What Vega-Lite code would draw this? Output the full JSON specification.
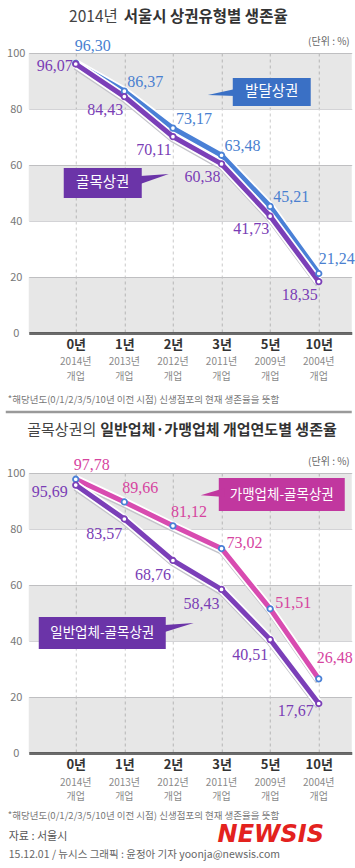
{
  "$schema": "https://vega.github.io/schema/vega-lite/v6.json",
  "padding": {"left": 3.75, "top": 9, "right": 0, "bottom": 0},
  "bounds": "flush",
  "spacing": 140,
  "config": {
    "view": {"stroke": null},
    "font": "Noto Sans CJK KR",
    "locale": {"number": {"decimal": ",", "thousands": ".", "grouping": [3], "currency": ["", ""]}}
  },
  "datasets": {
    "area": [
      {"period": "0년", "open": "2014년", "i": 0, "area": "발달상권", "rate": 96.30},
      {"period": "1년", "open": "2013년", "i": 1, "area": "발달상권", "rate": 86.37},
      {"period": "2년", "open": "2012년", "i": 2, "area": "발달상권", "rate": 73.17},
      {"period": "3년", "open": "2011년", "i": 3, "area": "발달상권", "rate": 63.48},
      {"period": "5년", "open": "2009년", "i": 4, "area": "발달상권", "rate": 45.21},
      {"period": "10년", "open": "2004년", "i": 5, "area": "발달상권", "rate": 21.24},
      {"period": "0년", "open": "2014년", "i": 0, "area": "골목상권", "rate": 96.07},
      {"period": "1년", "open": "2013년", "i": 1, "area": "골목상권", "rate": 84.43},
      {"period": "2년", "open": "2012년", "i": 2, "area": "골목상권", "rate": 70.11},
      {"period": "3년", "open": "2011년", "i": 3, "area": "골목상권", "rate": 60.38},
      {"period": "5년", "open": "2009년", "i": 4, "area": "골목상권", "rate": 41.73},
      {"period": "10년", "open": "2004년", "i": 5, "area": "골목상권", "rate": 18.35}
    ],
    "type": [
      {"period": "0년", "open": "2014년", "i": 0, "kind": "가맹업체-골목상권", "rate": 97.78},
      {"period": "1년", "open": "2013년", "i": 1, "kind": "가맹업체-골목상권", "rate": 89.66},
      {"period": "2년", "open": "2012년", "i": 2, "kind": "가맹업체-골목상권", "rate": 81.12},
      {"period": "3년", "open": "2011년", "i": 3, "kind": "가맹업체-골목상권", "rate": 73.02},
      {"period": "5년", "open": "2009년", "i": 4, "kind": "가맹업체-골목상권", "rate": 51.51},
      {"period": "10년", "open": "2004년", "i": 5, "kind": "가맹업체-골목상권", "rate": 26.48},
      {"period": "0년", "open": "2014년", "i": 0, "kind": "일반업체-골목상권", "rate": 95.69},
      {"period": "1년", "open": "2013년", "i": 1, "kind": "일반업체-골목상권", "rate": 83.57},
      {"period": "2년", "open": "2012년", "i": 2, "kind": "일반업체-골목상권", "rate": 68.76},
      {"period": "3년", "open": "2011년", "i": 3, "kind": "일반업체-골목상권", "rate": 58.43},
      {"period": "5년", "open": "2009년", "i": 4, "kind": "일반업체-골목상권", "rate": 40.51},
      {"period": "10년", "open": "2004년", "i": 5, "kind": "일반업체-골목상권", "rate": 17.67}
    ]
  },
  "vconcat": [
    {
      "width": 323,
      "height": 280,
      "data": {"name": "area"},
      "resolve": {"axis": {"x": "independent", "y": "independent"}},
      "layer": [
        {"data": {"values": [{}]}, "mark": {"type": "rect", "fill": "#000", "opacity": 0.095},
         "encoding": {"x": {"datum": -0.967, "type": "quantitative", "axis": null}, "x2": {"datum": 5.679}, "y": {"datum": 0, "type": "quantitative", "axis": null}, "y2": {"datum": 20}}},
        {"data": {"values": [{}]}, "mark": {"type": "rect", "fill": "#000", "opacity": 0.095},
         "encoding": {"x": {"datum": -0.967, "type": "quantitative", "axis": null}, "x2": {"datum": 5.679}, "y": {"datum": 40, "type": "quantitative", "axis": null}, "y2": {"datum": 60}}},
        {"data": {"values": [{}]}, "mark": {"type": "rect", "fill": "#000", "opacity": 0.095},
         "encoding": {"x": {"datum": -0.967, "type": "quantitative", "axis": null}, "x2": {"datum": 5.679}, "y": {"datum": 80, "type": "quantitative", "axis": null}, "y2": {"datum": 100}}},
        {"transform": [{"filter": {"field": "area", "equal": "발달상권"}}],
         "mark": {"type": "line", "color": "#c4c4ca", "strokeWidth": 7, "yOffset": 2.5},
         "encoding": {
           "x": {"field": "i", "type": "quantitative", "scale": {"domain": [-0.967, 5.679], "nice": false, "zero": false},
                 "axis": {"orient": "bottom", "values": [0, 1, 2, 3, 4, 5], "labelExpr": "['0년','1년','2년','3년','5년','10년'][datum.value]", "title": null, "ticks": false, "tickSize": 0, "labelPadding": 5, "labelFontSize": 13, "labelFontWeight": "bold", "labelColor": "#333", "labelFlush": false, "labelOverlap": false, "labelFont": "Noto Sans CJK KR", "domain": true, "domainColor": "#6b6b6b", "domainWidth": 3, "grid": true, "gridDash": [3, 3], "gridColor": "#c9c9c9", "gridWidth": 1}},
           "y": {"field": "rate", "type": "quantitative", "scale": {"domain": [0, 100]},
                 "axis": {"orient": "left", "values": [0, 20, 40, 60, 80, 100], "title": null, "ticks": false, "tickSize": 0, "domain": false, "labelAlign": "center", "labelPadding": 13, "labelColor": "#777", "labelFontSize": 11, "labelFont": "Noto Sans CJK KR", "labelOverlap": false, "labelFlush": false, "grid": true, "gridColor": "#d3d3d6", "gridWidth": 1}}}},
        {"transform": [{"filter": {"field": "area", "equal": "발달상권"}}],
         "mark": {"type": "line", "color": "white", "strokeWidth": 8.5},
         "encoding": {"x": {"field": "i", "type": "quantitative", "axis": null}, "y": {"field": "rate", "type": "quantitative", "axis": null}}},
        {"transform": [{"filter": {"field": "area", "equal": "발달상권"}}],
         "mark": {"type": "line", "color": "#4a80d6", "strokeWidth": 5},
         "encoding": {"x": {"field": "i", "type": "quantitative", "axis": null}, "y": {"field": "rate", "type": "quantitative", "axis": null}}},
        {"transform": [{"filter": {"field": "area", "equal": "골목상권"}}],
         "mark": {"type": "line", "color": "#c4c4ca", "strokeWidth": 7, "yOffset": 2.5},
         "encoding": {"x": {"field": "i", "type": "quantitative", "axis": null}, "y": {"field": "rate", "type": "quantitative", "axis": null}}},
        {"transform": [{"filter": {"field": "area", "equal": "골목상권"}}],
         "mark": {"type": "line", "color": "white", "strokeWidth": 8.5},
         "encoding": {"x": {"field": "i", "type": "quantitative", "axis": null}, "y": {"field": "rate", "type": "quantitative", "axis": null}}},
        {"transform": [{"filter": {"field": "area", "equal": "골목상권"}}],
         "mark": {"type": "line", "color": "#7b3fb8", "strokeWidth": 5},
         "encoding": {"x": {"field": "i", "type": "quantitative", "axis": null}, "y": {"field": "rate", "type": "quantitative", "axis": null}}},
        {"mark": {"type": "point", "filled": true, "fill": "white", "size": 30, "strokeWidth": 1.8, "opacity": 1},
         "encoding": {"x": {"field": "i", "type": "quantitative", "axis": null}, "y": {"field": "rate", "type": "quantitative", "axis": null},
                      "stroke": {"field": "area", "type": "nominal", "scale": {"domain": ["발달상권", "골목상권"], "range": ["#4a80d6", "#7b3fb8"]}, "legend": null}}},
        {"transform": [{"filter": {"field": "area", "equal": "발달상권"}}],
         "mark": {"type": "text", "fontSize": 10, "color": "#8a8a8a", "font": "Noto Sans CJK KR", "align": "center", "baseline": "middle"},
         "encoding": {"x": {"field": "i", "type": "quantitative", "axis": null}, "y": {"datum": -10.4, "type": "quantitative", "axis": null}, "text": {"field": "open"}}},
        {"transform": [{"filter": {"field": "area", "equal": "발달상권"}}],
         "mark": {"type": "text", "fontSize": 10, "color": "#8a8a8a", "font": "Noto Sans CJK KR", "align": "center", "baseline": "middle"},
         "encoding": {"x": {"field": "i", "type": "quantitative", "axis": null}, "y": {"datum": -15.7, "type": "quantitative", "axis": null}, "text": {"value": "개업"}}},
        {"transform": [{"filter": "datum.area === '발달상권' && datum.i >= 1 && datum.i <= 4"}],
         "mark": {"type": "text", "font": "Liberation Sans Narrow", "fontSize": 16, "color": "#4a7fd0", "dx": 21, "dy": -9, "align": "center", "baseline": "middle"},
         "encoding": {"x": {"field": "i", "type": "quantitative", "axis": null}, "y": {"field": "rate", "type": "quantitative", "axis": null}, "text": {"field": "rate", "type": "quantitative", "format": ".2f"}}},
        {"transform": [{"filter": "datum.area === '발달상권' && datum.i == 0"}],
         "mark": {"type": "text", "font": "Liberation Sans Narrow", "fontSize": 16, "color": "#4a7fd0", "dx": 17, "dy": -17, "align": "center", "baseline": "middle"},
         "encoding": {"x": {"field": "i", "type": "quantitative", "axis": null}, "y": {"field": "rate", "type": "quantitative", "axis": null}, "text": {"field": "rate", "type": "quantitative", "format": ".2f"}}},
        {"transform": [{"filter": "datum.area === '발달상권' && datum.i == 5"}],
         "mark": {"type": "text", "font": "Liberation Sans Narrow", "fontSize": 16, "color": "#4a7fd0", "dx": 18, "dy": -15, "align": "center", "baseline": "middle"},
         "encoding": {"x": {"field": "i", "type": "quantitative", "axis": null}, "y": {"field": "rate", "type": "quantitative", "axis": null}, "text": {"field": "rate", "type": "quantitative", "format": ".2f"}}},
        {"transform": [{"filter": "datum.area === '골목상권' && datum.i >= 1"}],
         "mark": {"type": "text", "font": "Liberation Sans Narrow", "fontSize": 16, "color": "#7a3db5", "dx": -19, "dy": 13, "align": "center", "baseline": "middle"},
         "encoding": {"x": {"field": "i", "type": "quantitative", "axis": null}, "y": {"field": "rate", "type": "quantitative", "axis": null}, "text": {"field": "rate", "type": "quantitative", "format": ".2f"}}},
        {"transform": [{"filter": "datum.area === '골목상권' && datum.i == 0"}],
         "mark": {"type": "text", "font": "Liberation Sans Narrow", "fontSize": 16, "color": "#7a3db5", "dx": -21, "dy": 2, "align": "center", "baseline": "middle"},
         "encoding": {"x": {"field": "i", "type": "quantitative", "axis": null}, "y": {"field": "rate", "type": "quantitative", "axis": null}, "text": {"field": "rate", "type": "quantitative", "format": ".2f"}}},
        {"data": {"values": [{}]}, "mark": {"type": "rect", "color": "#3a70c5"},
         "encoding": {"x": {"datum": 3.231, "type": "quantitative", "axis": null}, "x2": {"datum": 4.835}, "y": {"datum": 91.1, "type": "quantitative", "axis": null}, "y2": {"datum": 81.1}}},
        {"data": {"values": [{}]}, "mark": {"type": "point", "shape": "M1,-0.27L-0.83,0.13L1,0.2Z", "size": 900, "filled": true, "color": "#3a70c5", "opacity": 1, "strokeWidth": 0},
         "encoding": {"x": {"datum": 2.973, "type": "quantitative", "axis": null}, "y": {"datum": 85.7, "type": "quantitative", "axis": null}}},
        {"data": {"values": [{"label": "발달상권"}]}, "mark": {"type": "text", "color": "white", "fontSize": 14.5, "font": "Noto Sans CJK KR", "align": "center", "baseline": "middle"},
         "encoding": {"x": {"datum": 4.033, "type": "quantitative", "axis": null}, "y": {"datum": 86.1, "type": "quantitative", "axis": null}, "text": {"field": "label"}}},
        {"data": {"values": [{}]}, "mark": {"type": "rect", "color": "#6b34a8"},
         "encoding": {"x": {"datum": -0.247, "type": "quantitative", "axis": null}, "x2": {"datum": 1.358}, "y": {"datum": 58.9, "type": "quantitative", "axis": null}, "y2": {"datum": 48.2}}},
        {"data": {"values": [{}]}, "mark": {"type": "point", "shape": "M-1,-0.2L0.9,-0.33L-1,0.33Z", "size": 900, "filled": true, "color": "#6b34a8", "opacity": 1, "strokeWidth": 0},
         "encoding": {"x": {"datum": 1.636, "type": "quantitative", "axis": null}, "y": {"datum": 55.0, "type": "quantitative", "axis": null}}},
        {"data": {"values": [{"label": "골목상권"}]}, "mark": {"type": "text", "color": "white", "fontSize": 14.5, "font": "Noto Sans CJK KR", "align": "center", "baseline": "middle"},
         "encoding": {"x": {"datum": 0.556, "type": "quantitative", "axis": null}, "y": {"datum": 53.6, "type": "quantitative", "axis": null}, "text": {"field": "label"}}},
        {"data": {"values": [{"t": "2014년"}]}, "mark": {"type": "text", "align": "right", "baseline": "middle", "dx": -3, "fontSize": 15.5, "color": "#444", "font": "Noto Sans CJK KR"},
         "encoding": {"x": {"datum": 0.926, "type": "quantitative", "axis": null}, "y": {"datum": 112.9, "type": "quantitative", "axis": null}, "text": {"field": "t"}}},
        {"data": {"values": [{"t": "서울시 상권유형별 생존율"}]}, "mark": {"type": "text", "align": "left", "baseline": "middle", "dx": 3, "fontSize": 15.5, "fontWeight": "bold", "color": "#333", "font": "Noto Sans CJK KR"},
         "encoding": {"x": {"datum": 0.926, "type": "quantitative", "axis": null}, "y": {"datum": 112.9, "type": "quantitative", "axis": null}, "text": {"field": "t"}}},
        {"data": {"values": [{"t": "(단위 : %)"}]}, "mark": {"type": "text", "align": "right", "baseline": "middle", "fontSize": 10, "color": "#666", "font": "Noto Sans CJK KR"},
         "encoding": {"x": {"datum": 5.638, "type": "quantitative", "axis": null}, "y": {"datum": 103.9, "type": "quantitative", "axis": null}, "text": {"field": "t"}}},
        {"data": {"values": [{"t": "*해당년도(0/1/2/3/5/10년 이전 시점) 신생점포의 현재 생존율을 뜻함"}]}, "mark": {"type": "text", "align": "left", "baseline": "middle", "fontSize": 9.5, "color": "#777", "font": "Noto Sans CJK KR"},
         "encoding": {"x": {"datum": -1.399, "type": "quantitative", "axis": null}, "y": {"datum": -23.9, "type": "quantitative", "axis": null}, "text": {"field": "t"}}},
        {"data": {"values": [{}]}, "mark": {"type": "rule", "color": "#9a9a9a", "strokeWidth": 2.5},
         "encoding": {"x": {"datum": -1.44, "type": "quantitative", "axis": null}, "x2": {"datum": 5.679}, "y": {"datum": -28.2, "type": "quantitative", "axis": null}}},
        {"data": {"values": [{"t": "골목상권의"}]}, "mark": {"type": "text", "align": "right", "baseline": "middle", "dx": -2, "fontSize": 15, "color": "#444", "font": "Noto Sans CJK KR"},
         "encoding": {"x": {"datum": 0.463, "type": "quantitative", "axis": null}, "y": {"datum": -34.6, "type": "quantitative", "axis": null}, "text": {"field": "t"}}},
        {"data": {"values": [{"t": "일반업체·가맹업체 개업연도별 생존율"}]}, "mark": {"type": "text", "align": "left", "baseline": "middle", "dx": 2, "fontSize": 15, "fontWeight": "bold", "color": "#333", "font": "Noto Sans CJK KR"},
         "encoding": {"x": {"datum": 0.463, "type": "quantitative", "axis": null}, "y": {"datum": -34.6, "type": "quantitative", "axis": null}, "text": {"field": "t"}}}
      ]
    },
    {
      "width": 323,
      "height": 280,
      "data": {"name": "type"},
      "resolve": {"axis": {"x": "independent", "y": "independent"}},
      "layer": [
        {"data": {"values": [{}]}, "mark": {"type": "rect", "fill": "#000", "opacity": 0.095},
         "encoding": {"x": {"datum": -0.967, "type": "quantitative", "axis": null}, "x2": {"datum": 5.679}, "y": {"datum": 0, "type": "quantitative", "axis": null}, "y2": {"datum": 20}}},
        {"data": {"values": [{}]}, "mark": {"type": "rect", "fill": "#000", "opacity": 0.095},
         "encoding": {"x": {"datum": -0.967, "type": "quantitative", "axis": null}, "x2": {"datum": 5.679}, "y": {"datum": 40, "type": "quantitative", "axis": null}, "y2": {"datum": 60}}},
        {"data": {"values": [{}]}, "mark": {"type": "rect", "fill": "#000", "opacity": 0.095},
         "encoding": {"x": {"datum": -0.967, "type": "quantitative", "axis": null}, "x2": {"datum": 5.679}, "y": {"datum": 80, "type": "quantitative", "axis": null}, "y2": {"datum": 100}}},
        {"transform": [{"filter": {"field": "kind", "equal": "가맹업체-골목상권"}}],
         "mark": {"type": "line", "color": "#c4c4ca", "strokeWidth": 7, "yOffset": 2.5},
         "encoding": {
           "x": {"field": "i", "type": "quantitative", "scale": {"domain": [-0.967, 5.679], "nice": false, "zero": false},
                 "axis": {"orient": "bottom", "values": [0, 1, 2, 3, 4, 5], "labelExpr": "['0년','1년','2년','3년','5년','10년'][datum.value]", "title": null, "ticks": false, "tickSize": 0, "labelPadding": 5, "labelFontSize": 13, "labelFontWeight": "bold", "labelColor": "#333", "labelFlush": false, "labelOverlap": false, "labelFont": "Noto Sans CJK KR", "domain": true, "domainColor": "#6b6b6b", "domainWidth": 3, "grid": true, "gridDash": [3, 3], "gridColor": "#c9c9c9", "gridWidth": 1}},
           "y": {"field": "rate", "type": "quantitative", "scale": {"domain": [0, 100]},
                 "axis": {"orient": "left", "values": [0, 20, 40, 60, 80, 100], "title": null, "ticks": false, "tickSize": 0, "domain": false, "labelAlign": "center", "labelPadding": 13, "labelColor": "#777", "labelFontSize": 11, "labelFont": "Noto Sans CJK KR", "labelOverlap": false, "labelFlush": false, "grid": true, "gridColor": "#d3d3d6", "gridWidth": 1}}}},
        {"transform": [{"filter": {"field": "kind", "equal": "가맹업체-골목상권"}}],
         "mark": {"type": "line", "color": "white", "strokeWidth": 8.5},
         "encoding": {"x": {"field": "i", "type": "quantitative", "axis": null}, "y": {"field": "rate", "type": "quantitative", "axis": null}}},
        {"transform": [{"filter": {"field": "kind", "equal": "가맹업체-골목상권"}}],
         "mark": {"type": "line", "color": "#d84bb0", "strokeWidth": 5},
         "encoding": {"x": {"field": "i", "type": "quantitative", "axis": null}, "y": {"field": "rate", "type": "quantitative", "axis": null}}},
        {"transform": [{"filter": {"field": "kind", "equal": "일반업체-골목상권"}}],
         "mark": {"type": "line", "color": "#c4c4ca", "strokeWidth": 7, "yOffset": 2.5},
         "encoding": {"x": {"field": "i", "type": "quantitative", "axis": null}, "y": {"field": "rate", "type": "quantitative", "axis": null}}},
        {"transform": [{"filter": {"field": "kind", "equal": "일반업체-골목상권"}}],
         "mark": {"type": "line", "color": "white", "strokeWidth": 8.5},
         "encoding": {"x": {"field": "i", "type": "quantitative", "axis": null}, "y": {"field": "rate", "type": "quantitative", "axis": null}}},
        {"transform": [{"filter": {"field": "kind", "equal": "일반업체-골목상권"}}],
         "mark": {"type": "line", "color": "#7b3fb8", "strokeWidth": 5},
         "encoding": {"x": {"field": "i", "type": "quantitative", "axis": null}, "y": {"field": "rate", "type": "quantitative", "axis": null}}},
        {"mark": {"type": "point", "filled": true, "fill": "white", "size": 30, "strokeWidth": 1.8, "opacity": 1},
         "encoding": {"x": {"field": "i", "type": "quantitative", "axis": null}, "y": {"field": "rate", "type": "quantitative", "axis": null},
                      "stroke": {"field": "kind", "type": "nominal", "scale": {"domain": ["가맹업체-골목상권", "일반업체-골목상권"], "range": ["#d84bb0", "#7b3fb8"]}, "legend": null}}},
        {"transform": [{"filter": {"field": "kind", "equal": "가맹업체-골목상권"}}],
         "mark": {"type": "text", "fontSize": 10, "color": "#8a8a8a", "font": "Noto Sans CJK KR", "align": "center", "baseline": "middle"},
         "encoding": {"x": {"field": "i", "type": "quantitative", "axis": null}, "y": {"datum": -10.6, "type": "quantitative", "axis": null}, "text": {"field": "open"}}},
        {"transform": [{"filter": {"field": "kind", "equal": "가맹업체-골목상권"}}],
         "mark": {"type": "text", "fontSize": 10, "color": "#8a8a8a", "font": "Noto Sans CJK KR", "align": "center", "baseline": "middle"},
         "encoding": {"x": {"field": "i", "type": "quantitative", "axis": null}, "y": {"datum": -15.8, "type": "quantitative", "axis": null}, "text": {"value": "개업"}}},
        {"transform": [{"filter": "datum.kind === '가맹업체-골목상권' && datum.i <= 2"}],
         "mark": {"type": "text", "font": "Liberation Sans Narrow", "fontSize": 16, "color": "#d6449f", "dx": 16, "dy": -14, "align": "center", "baseline": "middle"},
         "encoding": {"x": {"field": "i", "type": "quantitative", "axis": null}, "y": {"field": "rate", "type": "quantitative", "axis": null}, "text": {"field": "rate", "type": "quantitative", "format": ".2f"}}},
        {"transform": [{"filter": "datum.kind === '가맹업체-골목상권' && (datum.i == 3 || datum.i == 4)"}],
         "mark": {"type": "text", "font": "Liberation Sans Narrow", "fontSize": 16, "color": "#d6449f", "dx": 23, "dy": -6, "align": "center", "baseline": "middle"},
         "encoding": {"x": {"field": "i", "type": "quantitative", "axis": null}, "y": {"field": "rate", "type": "quantitative", "axis": null}, "text": {"field": "rate", "type": "quantitative", "format": ".2f"}}},
        {"transform": [{"filter": "datum.kind === '가맹업체-골목상권' && datum.i == 5"}],
         "mark": {"type": "text", "font": "Liberation Sans Narrow", "fontSize": 16, "color": "#d6449f", "dx": 16, "dy": -21, "align": "center", "baseline": "middle"},
         "encoding": {"x": {"field": "i", "type": "quantitative", "axis": null}, "y": {"field": "rate", "type": "quantitative", "axis": null}, "text": {"field": "rate", "type": "quantitative", "format": ".2f"}}},
        {"transform": [{"filter": "datum.kind === '일반업체-골목상권' && datum.i >= 1 && datum.i <= 4"}],
         "mark": {"type": "text", "font": "Liberation Sans Narrow", "fontSize": 16, "color": "#7a3db5", "dx": -20, "dy": 15, "align": "center", "baseline": "middle"},
         "encoding": {"x": {"field": "i", "type": "quantitative", "axis": null}, "y": {"field": "rate", "type": "quantitative", "axis": null}, "text": {"field": "rate", "type": "quantitative", "format": ".2f"}}},
        {"transform": [{"filter": "datum.kind === '일반업체-골목상권' && datum.i == 0"}],
         "mark": {"type": "text", "font": "Liberation Sans Narrow", "fontSize": 16, "color": "#7a3db5", "dx": -26, "dy": 7, "align": "center", "baseline": "middle"},
         "encoding": {"x": {"field": "i", "type": "quantitative", "axis": null}, "y": {"field": "rate", "type": "quantitative", "axis": null}, "text": {"field": "rate", "type": "quantitative", "format": ".2f"}}},
        {"transform": [{"filter": "datum.kind === '일반업체-골목상권' && datum.i == 5"}],
         "mark": {"type": "text", "font": "Liberation Sans Narrow", "fontSize": 16, "color": "#7a3db5", "dx": -23, "dy": 7, "align": "center", "baseline": "middle"},
         "encoding": {"x": {"field": "i", "type": "quantitative", "axis": null}, "y": {"field": "rate", "type": "quantitative", "axis": null}, "text": {"field": "rate", "type": "quantitative", "format": ".2f"}}},
        {"data": {"values": [{}]}, "mark": {"type": "rect", "color": "#c1379f"},
         "encoding": {"x": {"datum": 2.943, "type": "quantitative", "axis": null}, "x2": {"datum": 5.535}, "y": {"datum": 98.2, "type": "quantitative", "axis": null}, "y2": {"datum": 86.4}}},
        {"data": {"values": [{}]}, "mark": {"type": "point", "shape": "M1,-0.3L-0.6,0.17L1,0.3Z", "size": 900, "filled": true, "color": "#c1379f", "opacity": 1, "strokeWidth": 0},
         "encoding": {"x": {"datum": 2.757, "type": "quantitative", "axis": null}, "y": {"datum": 93.0, "type": "quantitative", "axis": null}}},
        {"data": {"values": [{"label": "가맹업체-골목상권"}]}, "mark": {"type": "text", "color": "white", "fontSize": 13.5, "font": "Noto Sans CJK KR", "align": "center", "baseline": "middle"},
         "encoding": {"x": {"datum": 4.239, "type": "quantitative", "axis": null}, "y": {"datum": 92.3, "type": "quantitative", "axis": null}, "text": {"field": "label"}}},
        {"data": {"values": [{}]}, "mark": {"type": "rect", "color": "#6b34a8"},
         "encoding": {"x": {"datum": -0.761, "type": "quantitative", "axis": null}, "x2": {"datum": 1.852}, "y": {"datum": 48.6, "type": "quantitative", "axis": null}, "y2": {"datum": 37.1}}},
        {"data": {"values": [{}]}, "mark": {"type": "point", "shape": "M-1,-0.13L0.93,-0.27L-1,0.33Z", "size": 900, "filled": true, "color": "#6b34a8", "opacity": 1, "strokeWidth": 0},
         "encoding": {"x": {"datum": 2.14, "type": "quantitative", "axis": null}, "y": {"datum": 45.0, "type": "quantitative", "axis": null}}},
        {"data": {"values": [{"label": "일반업체-골목상권"}]}, "mark": {"type": "text", "color": "white", "fontSize": 13.5, "font": "Noto Sans CJK KR", "align": "center", "baseline": "middle"},
         "encoding": {"x": {"datum": 0.545, "type": "quantitative", "axis": null}, "y": {"datum": 42.9, "type": "quantitative", "axis": null}, "text": {"field": "label"}}},
        {"data": {"values": [{"t": "(단위 : %)"}]}, "mark": {"type": "text", "align": "right", "baseline": "middle", "fontSize": 10, "color": "#666", "font": "Noto Sans CJK KR"},
         "encoding": {"x": {"datum": 5.638, "type": "quantitative", "axis": null}, "y": {"datum": 103.9, "type": "quantitative", "axis": null}, "text": {"field": "t"}}},
        {"data": {"values": [{"t": "*해당년도(0/1/2/3/5/10년 이전 시점) 신생점포의 현재 생존율을 뜻함"}]}, "mark": {"type": "text", "align": "left", "baseline": "middle", "fontSize": 9.5, "color": "#777", "font": "Noto Sans CJK KR"},
         "encoding": {"x": {"datum": -1.399, "type": "quantitative", "axis": null}, "y": {"datum": -22.4, "type": "quantitative", "axis": null}, "text": {"field": "t"}}},
        {"data": {"values": [{"t": "자료 : 서울시"}]}, "mark": {"type": "text", "align": "left", "baseline": "middle", "fontSize": 11, "color": "#555", "font": "Noto Sans CJK KR"},
         "encoding": {"x": {"datum": -1.379, "type": "quantitative", "axis": null}, "y": {"datum": -30.0, "type": "quantitative", "axis": null}, "text": {"field": "t"}}},
        {"data": {"values": [{"t": "15.12.01 / 뉴시스 그래픽 : 윤정아 기자 yoonja@newsis.com"}]}, "mark": {"type": "text", "align": "left", "baseline": "middle", "fontSize": 10.5, "color": "#666", "font": "Noto Sans CJK KR"},
         "encoding": {"x": {"datum": -1.379, "type": "quantitative", "axis": null}, "y": {"datum": -36.4, "type": "quantitative", "axis": null}, "text": {"field": "t"}}},
        {"data": {"values": [{"t": "NEWSIS"}]}, "mark": {"type": "text", "align": "center", "baseline": "middle", "fontSize": 24, "fontWeight": "bold", "fontStyle": "italic", "color": "#e3221e", "font": "DejaVu Sans"},
         "encoding": {"x": {"datum": 4.013, "type": "quantitative", "axis": null}, "y": {"datum": -29.3, "type": "quantitative", "axis": null}, "text": {"field": "t"}}}
      ]
    }
  ]
}
